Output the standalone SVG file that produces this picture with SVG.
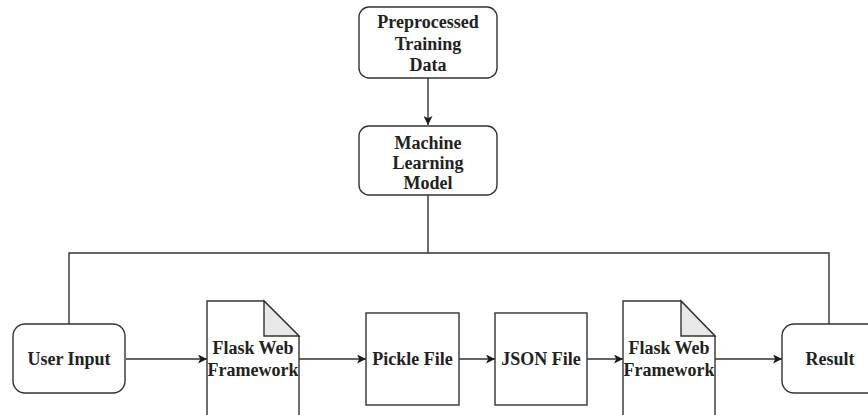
<svg xmlns="http://www.w3.org/2000/svg" width="868" height="415" viewBox="0 0 868 415">
<defs>
<marker id="arr" viewBox="0 0 10 10" refX="10" refY="5" markerWidth="9" markerHeight="9" markerUnits="userSpaceOnUse" orient="auto">
<path d="M0,0 L10,5 L0,10 L2.5,5 z" fill="#1a1a1a"/>
</marker>
<style>
.box{fill:#fff;stroke:#333;stroke-width:1.4}
.fold{fill:#e8e8e8;stroke:#333;stroke-width:1.4}
.ln{fill:none;stroke:#333;stroke-width:1.4}
.t{font-weight:bold;font-size:18px;fill:#222;text-anchor:middle}
</style>
</defs>
<rect width="868" height="415" fill="#fff"/>
<g id="connectors">
<line class="ln" x1="428" y1="78" x2="428" y2="125" marker-end="url(#arr)"/>
<polyline class="ln" points="428,195 428,253"/>
<polyline class="ln" points="69,324 69,253 829,253 829,324"/>
<line class="ln" x1="126" y1="359" x2="207" y2="359" marker-end="url(#arr)"/>
<line class="ln" x1="299" y1="359" x2="366" y2="359" marker-end="url(#arr)"/>
<line class="ln" x1="459" y1="359" x2="495" y2="359" marker-end="url(#arr)"/>
<line class="ln" x1="587" y1="359" x2="623" y2="359" marker-end="url(#arr)"/>
<line class="ln" x1="715" y1="359" x2="782" y2="359" marker-end="url(#arr)"/>
</g>
<g font-family="Liberation Serif, DejaVu Serif, serif">
<g id="preprocessed">
<rect class="box" x="359" y="7" width="138" height="71" rx="10"/>
<text class="t" x="428" y="28">Preprocessed</text>
<text class="t" x="428" y="50">Training</text>
<text class="t" x="428" y="71">Data</text>
</g>
<g id="ml-model">
<rect class="box" x="359" y="126" width="138" height="69" rx="10"/>
<text class="t" x="428" y="149">Machine</text>
<text class="t" x="428" y="169">Learning</text>
<text class="t" x="428" y="189">Model</text>
</g>
<g id="user-input">
<rect class="box" x="13" y="324" width="112" height="69" rx="12"/>
<text class="t" x="69" y="365">User Input</text>
</g>
<g id="flask1">
<path class="box" d="M207,301 L264,301 L299,336 L299,420 L207,420 Z"/>
<path class="fold" d="M264,301 L299,336 L264,336 Z"/>
<text class="t" x="253" y="354">Flask Web</text>
<text class="t" x="253" y="376">Framework</text>
</g>
<g id="pickle">
<rect class="box" x="366" y="313" width="93" height="92"/>
<text class="t" x="412.5" y="365">Pickle File</text>
</g>
<g id="json">
<rect class="box" x="495" y="313" width="92" height="92"/>
<text class="t" x="541" y="365">JSON File</text>
</g>
<g id="flask2">
<path class="box" d="M623,301 L681,301 L715,336 L715,420 L623,420 Z"/>
<path class="fold" d="M681,301 L715,336 L681,336 Z"/>
<text class="t" x="669" y="354">Flask Web</text>
<text class="t" x="669" y="376">Framework</text>
</g>
<g id="result">
<rect class="box" x="782" y="324" width="112" height="69" rx="12"/>
<text class="t" x="830" y="365">Result</text>
</g>
</g>
</svg>
